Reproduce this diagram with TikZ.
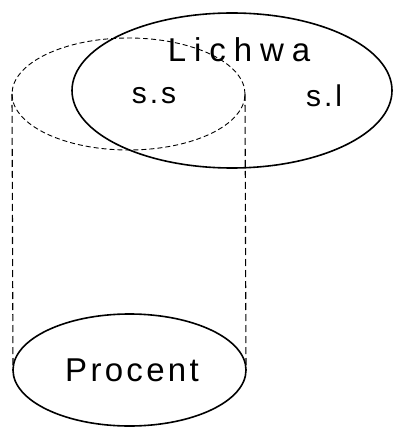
\documentclass[tikz,border=0pt]{standalone}
\usepackage{fontspec}
\setmainfont{Liberation Sans}
\newfontfamily\lettering[LetterSpace=10]{Liberation Sans}
\newfontfamily\widelettering[LetterSpace=24]{Liberation Sans}
\usetikzlibrary{shapes.geometric}
\begin{document}
\begin{tikzpicture}[x=1pt,y=-1pt,
  oval/.style={ellipse,draw,inner sep=0pt,outer sep=0pt},
  solidoval/.style={oval,line width=1.6pt},
  dashoval/.style={oval,dashed,line width=0.9pt,dash pattern=on 5pt off 3pt},
  side/.style={dashed,line width=1.1pt,dash pattern=on 7pt off 4pt},
  label/.style={inner sep=0pt}]
\useasboundingbox (0,0) rectangle (394,427);
\node[dashoval,minimum width=233pt,minimum height=112pt] (top) at (128.5,94) {};
\node[solidoval,minimum width=320pt,minimum height=155pt] (lichwa) at (232,90.5) {};
\node[solidoval,minimum width=233pt,minimum height=112pt] (procent) at (129.5,370) {};
\draw[side] (top.west) -- (procent.west);
\draw[side] (top.east) -- (procent.east);
\node[label,font=\widelettering\fontsize{33}{33}\selectfont] (tl) at (239,50) {Lichwa};
\node[label,font=\lettering\fontsize{30}{30}\selectfont] (ss) at (154,96) {s.s};
\node[label,font=\lettering\fontsize{30}{30}\selectfont] (sl) at (324,96) {s.l};
\node[label,font=\lettering\fontsize{33}{33}\selectfont] (tp) at (132,370) {Procent};
\end{tikzpicture}
\end{document}
